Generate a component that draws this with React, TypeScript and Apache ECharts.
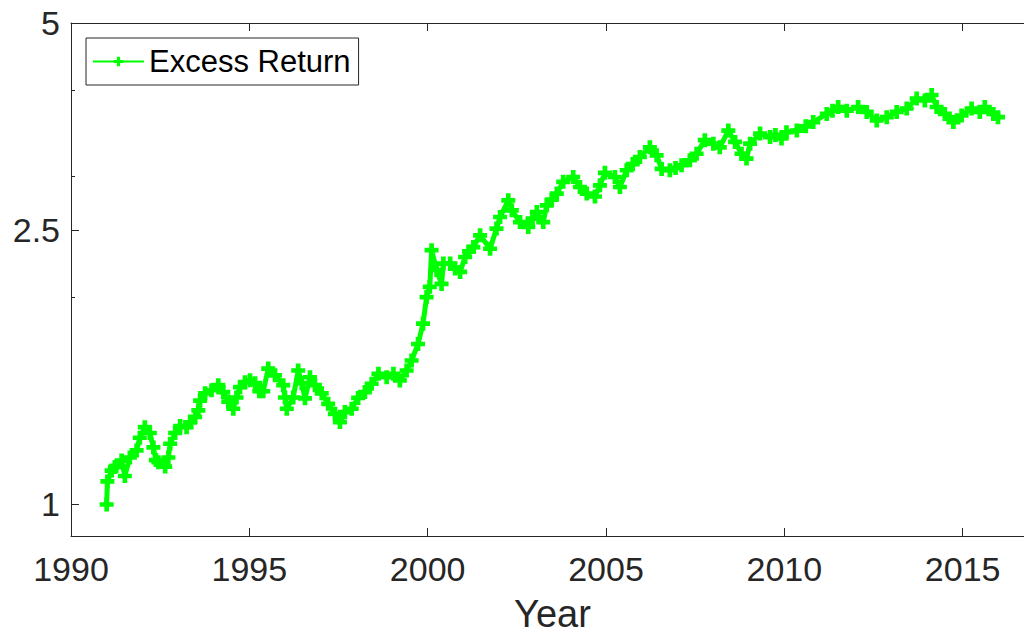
import React, { useEffect, useRef } from "react";
import * as echarts from "echarts";

const seriesName = "Excess Return";
const xTitle = "Year";

const years = [
  1991.0, 1991.02, 1991.14, 1991.23, 1991.42, 1991.51, 1991.65, 1991.84, 1991.93, 1992.07,
  1992.21, 1992.31, 1992.38, 1992.45, 1992.64, 1992.73, 1992.78, 1992.92, 1993.06, 1993.24,
  1993.34, 1993.48, 1993.57, 1993.62, 1993.76, 1993.94, 1994.13, 1994.27, 1994.41, 1994.55,
  1994.64, 1994.74, 1994.88, 1995.02, 1995.16, 1995.28, 1995.39, 1995.53, 1995.72, 1995.95,
  1996.0, 1996.05, 1996.23, 1996.37, 1996.47, 1996.56, 1996.7, 1996.84, 1997.03, 1997.21,
  1997.4, 1997.54, 1997.68, 1997.87, 1998.05, 1998.24, 1998.43, 1998.62, 1998.85, 1999.04,
  1999.22, 1999.41, 1999.55, 1999.73, 1999.87, 1999.97, 2000.06, 2000.11, 2000.25, 2000.39,
  2000.44, 2000.63, 2000.77, 2000.91, 2001.05, 2001.16, 2001.28, 2001.47, 2001.75, 2001.93,
  2002.03, 2002.26, 2002.36, 2002.59, 2002.82, 2002.94, 2003.06, 2003.24, 2003.34, 2003.48,
  2003.62, 2003.8, 2004.08, 2004.27, 2004.46, 2004.69, 2004.83, 2004.97, 2005.25, 2005.39,
  2005.58, 2005.75, 2005.95, 2006.23, 2006.42, 2006.56, 2006.79, 2006.95, 2007.12, 2007.35,
  2007.54, 2007.77, 2008.01, 2008.19, 2008.43, 2008.62, 2008.8, 2008.94, 2009.04, 2009.32,
  2009.6, 2009.75, 2009.92, 2010.06, 2010.35, 2010.6, 2010.81, 2011.19, 2011.35, 2011.51,
  2011.75, 2012.07, 2012.31, 2012.59, 2012.87, 2013.15, 2013.43, 2013.71, 2013.94, 2014.13,
  2014.27, 2014.5, 2014.74, 2014.97, 2015.25, 2015.48, 2015.62, 2015.86, 2015.99,
];

const values = [
  1.0, 1.08, 1.12, 1.133, 1.158, 1.1, 1.17, 1.198, 1.25, 1.295,
  1.27, 1.21, 1.16, 1.152, 1.135, 1.17, 1.225, 1.27, 1.3, 1.295,
  1.316, 1.34, 1.37, 1.415, 1.45, 1.465, 1.49, 1.456, 1.41, 1.377,
  1.43, 1.48, 1.505, 1.515, 1.5, 1.46, 1.46, 1.575, 1.54, 1.49,
  1.43, 1.377, 1.43, 1.565, 1.5, 1.426, 1.53, 1.49, 1.45, 1.4,
  1.354, 1.317, 1.362, 1.377, 1.428, 1.456, 1.497, 1.548, 1.53, 1.548,
  1.514, 1.565, 1.618, 1.71, 1.83, 2.0, 2.07, 2.34, 2.19, 2.09,
  2.237, 2.237, 2.2, 2.176, 2.287, 2.33, 2.364, 2.459, 2.351, 2.515,
  2.614, 2.764, 2.673, 2.57, 2.528, 2.6, 2.658, 2.57, 2.718, 2.77,
  2.827, 2.94, 2.988, 2.89, 2.827, 2.8, 2.906, 3.03, 2.988, 2.89,
  3.056, 3.12, 3.195, 3.3, 3.213, 3.07, 3.056, 3.08, 3.108, 3.16,
  3.23, 3.38, 3.34, 3.3, 3.49, 3.36, 3.23, 3.178, 3.34, 3.455,
  3.415, 3.44, 3.4, 3.47, 3.49, 3.54, 3.59, 3.69, 3.73, 3.776,
  3.73, 3.776, 3.714, 3.61, 3.65, 3.714, 3.757, 3.885, 3.86, 3.93,
  3.776, 3.69, 3.59, 3.67, 3.757, 3.714, 3.776, 3.69, 3.65,
];

const xTickValues = [1990, 1995, 2000, 2005, 2010, 2015];
const yLabelValues = [1, 2.5, 5];
const yMinorValues = [2, 3, 4];

const AXIS = "#262626";
const GREEN = "#00ff00";
const FONT = "'Liberation Sans', Arial, sans-serif";
const PLUS = "path://M4,0h4v4h4v4h-4v4h-4v-4h-4v-4h4z";

export default function App() {
  const ref = useRef<HTMLDivElement>(null);
  useEffect(() => {
    document.body.style.margin = "0";
    const chart = echarts.init(ref.current!, undefined, { renderer: "svg" });
    const data = years.map((y, i) => [y, values[i]]);
    chart.setOption({
      animation: false,
      backgroundColor: "#ffffff",
      textStyle: { fontFamily: FONT },
      grid: {
        left: 71,
        right: -10,
        top: 23,
        bottom: 100,
        containLabel: false,
        outerBoundsMode: "none",
      },
      legend: {
        left: 86,
        top: 38,
        padding: [8, 8, 8, 6],
        itemWidth: 51,
        itemHeight: 12,
        borderColor: AXIS,
        borderWidth: 1,
        backgroundColor: "#ffffff",
        textStyle: { fontSize: 31, color: "#000000", fontFamily: FONT },
        data: [seriesName],
      },
      xAxis: [
        {
          type: "value",
          min: 1990,
          max: 2017,
          interval: 5,
          name: xTitle,
          nameLocation: "middle",
          nameGap: 59,
          nameTextStyle: { fontSize: 38, lineHeight: 38, color: AXIS, fontFamily: FONT },
          axisLine: { show: true, lineStyle: { color: AXIS, width: 1 } },
          axisTick: { show: true, inside: true, length: 8, customValues: xTickValues, lineStyle: { color: AXIS } },
          axisLabel: {
            show: true,
            fontSize: 34,
            color: AXIS,
            margin: 16,
            customValues: xTickValues,
            formatter: (v: number) => String(v),
          },
          splitLine: { show: false },
        },
        {
          type: "value",
          position: "top",
          min: 1990,
          max: 2017,
          interval: 5,
          axisLine: { show: true, lineStyle: { color: AXIS, width: 1 } },
          axisTick: { show: true, inside: true, length: 8, customValues: xTickValues, lineStyle: { color: AXIS } },
          axisLabel: { show: false },
          splitLine: { show: false },
        },
      ],
      yAxis: [
        {
          type: "log",
          logBase: 10,
          min: 0.9,
          max: 5,
          axisLine: { show: true, lineStyle: { color: AXIS, width: 1 } },
          axisTick: {
            show: true,
            inside: true,
            length: 8,
            customValues: yLabelValues,
            lineStyle: { color: AXIS },
          },
          axisLabel: {
            show: true,
            fontSize: 34,
            color: AXIS,
            margin: 11,
            customValues: yLabelValues,
            formatter: (v: number) => String(Math.round(v * 10) / 10),
          },
          splitLine: { show: false },
        },
        {
          type: "log",
          logBase: 10,
          min: 0.9,
          max: 5,
          position: "left",
          axisLine: { show: false },
          axisTick: {
            show: true,
            inside: true,
            length: 4,
            customValues: yMinorValues,
            lineStyle: { color: AXIS },
          },
          axisLabel: { show: false },
          splitLine: { show: false },
        },
      ],
      series: [
        {
          name: seriesName,
          type: "line",
          data,
          xAxisIndex: 0,
          yAxisIndex: 0,
          symbol: PLUS,
          symbolSize: 14,
          showAllSymbol: true,
          itemStyle: { color: GREEN },
          lineStyle: { color: GREEN, width: 5 },
        },
      ],
    });
    return () => chart.dispose();
  }, []);
  return <div ref={ref} style={{ width: 1024, height: 636 }} />;
}
